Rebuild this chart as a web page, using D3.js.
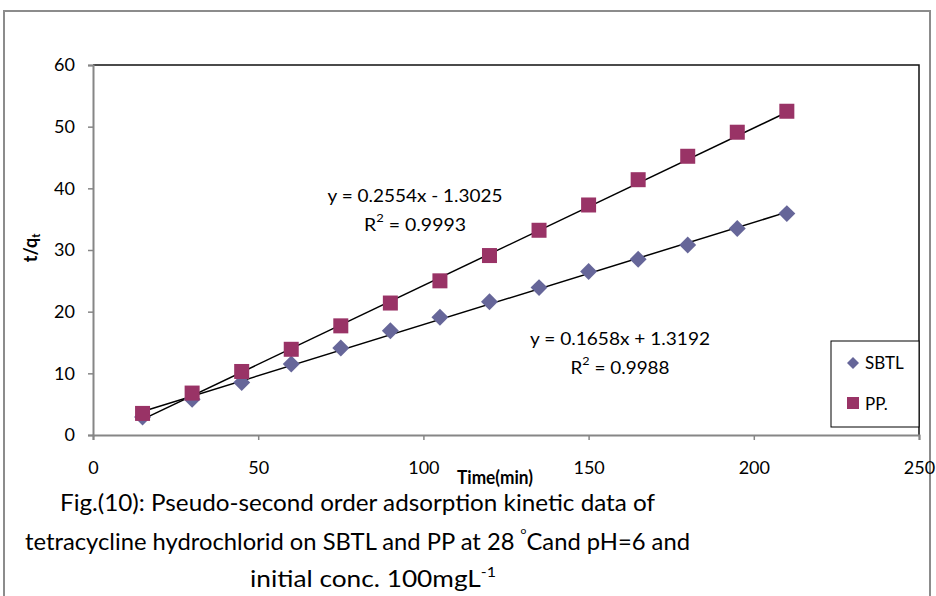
<!DOCTYPE html>
<html><head><meta charset="utf-8">
<script src="https://cdn.jsdelivr.net/npm/d3@7"></script>
<style>body{margin:0;background:#fff;} svg{display:block;}</style>
</head><body>
<svg id="c" width="936" height="596"></svg>
<script>
// ---- data ----
const times = [15,30,45,60,75,90,105,120,135,150,165,180,195,210];
const sbtl  = [2.9,5.8,8.5,11.5,14.1,16.9,19.1,21.6,23.9,26.5,28.5,30.8,33.5,35.9];
const pp    = [3.5,6.8,10.3,13.9,17.7,21.4,25.0,29.1,33.2,37.3,41.4,45.2,49.1,52.5];
const seriesNames = ["SBTL","PP."];
const fitSbtl = {slope:0.1658, intercept:1.3192, r2:"0.9988"};
const fitPp   = {slope:0.2554, intercept:-1.3025, r2:"0.9993"};
const xTicks = [0,50,100,150,200,250];
const yTicks = [0,10,20,30,40,50,60];

const svg = d3.select("#c");
const F = "Lato,'Open Sans',sans-serif";
const x = d3.scaleLinear().domain([0,250]).range([93,919]);
const y = d3.scaleLinear().domain([0,60]).range([435,65]);

// outer chart border
svg.append("path").attr("d","M4,596 V11 H930 V596").attr("fill","none").attr("stroke","#8c8c8c").attr("stroke-width",2);

// plot border top/right
svg.append("path").attr("d",`M${x(0)},${y(60)} H${x(250)} V${y(0)}`).attr("fill","none").attr("stroke","#111").attr("stroke-width",1.5);

// axes
const yAxis = d3.axisLeft(y).tickValues(yTicks).tickSize(5).tickPadding(13);
const gy = svg.append("g").attr("transform",`translate(${x(0)},0)`).call(yAxis);
const xAxis = d3.axisBottom(x).tickValues(xTicks).tickSize(5).tickPadding(21);
const gx = svg.append("g").attr("transform",`translate(0,${y(0)})`).call(xAxis);
[gx,gy].forEach(g=>{
  g.select(".domain").attr("stroke","#868686").attr("stroke-width",2);
  g.selectAll(".tick line").attr("stroke","#868686").attr("stroke-width",1.5);
  g.selectAll(".tick text").attr("font-family",F).attr("font-size",18).attr("fill","#000");
});
gx.selectAll(".tick text").attr("dy",0).attr("y",39);

// axis titles
svg.append("text").attr("x",495).attr("y",484).attr("text-anchor","middle")
  .attr("font-family",F).attr("font-size",18).attr("font-weight","bold")
  .attr("textLength",76).attr("lengthAdjust","spacingAndGlyphs").text("Time(min)");
const yt = svg.append("text").attr("transform","translate(37,248) rotate(-90)").attr("text-anchor","middle")
  .attr("font-family",F).attr("font-size",18).attr("font-weight","bold");
yt.append("tspan").text("t/q");
yt.append("tspan").attr("font-size",11).attr("dy",3).text("t");

// trend lines
[fitSbtl,fitPp].forEach(f=>{
  const x0 = d3.min(times), x1 = d3.max(times);
  svg.append("line").attr("x1",x(x0)).attr("y1",y(f.slope*x0+f.intercept))
    .attr("x2",x(x1)).attr("y2",y(f.slope*x1+f.intercept)).attr("stroke","#000").attr("stroke-width",1.5);
});

// markers
const colS = "#666699", colP = "#993366";
svg.append("g").selectAll("path").data(times.map((t,i)=>[t,sbtl[i]])).join("path")
  .attr("transform",d=>`translate(${x(d[0])},${y(d[1])}) rotate(45)`)
  .attr("d",d3.symbol().type(d3.symbolSquare).size(144)()).attr("fill",colS);
svg.append("g").selectAll("rect").data(times.map((t,i)=>[t,pp[i]])).join("rect")
  .attr("x",d=>x(d[0])-7.5).attr("y",d=>y(d[1])-7.5).attr("width",15).attr("height",15).attr("fill",colP);

// trend equations
function eq(cx, cy, txt, r2, w, w2){
  svg.append("text").attr("x",cx).attr("y",cy).attr("text-anchor","middle")
    .attr("font-family",F).attr("font-size",18)
    .attr("textLength",w).attr("lengthAdjust","spacingAndGlyphs").text(txt);
  const t = svg.append("text").attr("x",cx).attr("y",cy+29).attr("text-anchor","middle")
    .attr("font-family",F).attr("font-size",18)
    .attr("textLength",w2).attr("lengthAdjust","spacingAndGlyphs");
  t.append("tspan").text("R");
  t.append("tspan").attr("font-size",12).attr("dy",-9).text("2");
  t.append("tspan").attr("dy",9).text(" = "+r2);
}
eq(415, 202, `y = ${fitPp.slope}x - ${Math.abs(fitPp.intercept).toFixed(4)}`, fitPp.r2, 175, 102);
eq(620, 345, `y = ${fitSbtl.slope}x + ${fitSbtl.intercept.toFixed(4)}`, fitSbtl.r2, 180, 99);

// legend
svg.append("rect").attr("x",831).attr("y",341).attr("width",88).attr("height",86)
  .attr("fill","#fff").attr("stroke","#000").attr("stroke-width",1);
svg.append("path").attr("transform","translate(853,363) rotate(45)")
  .attr("d",d3.symbol().type(d3.symbolSquare).size(72)()).attr("fill",colS);
svg.append("rect").attr("x",847).attr("y",397).attr("width",12).attr("height",12).attr("fill",colP);
svg.append("text").attr("x",865).attr("y",369).attr("font-family",F).attr("font-size",17).text(seriesNames[0]);
svg.append("text").attr("x",865).attr("y",410).attr("font-family",F).attr("font-size",17).text(seriesNames[1]);

// caption
const CF = 23;
svg.append("text").attr("x",60).attr("y",511).attr("font-family",F).attr("font-size",CF)
  .attr("textLength",595).attr("lengthAdjust","spacingAndGlyphs")
  .text("Fig.(10): Pseudo-second order adsorption kinetic data of");
const c2 = svg.append("text").attr("x",25).attr("y",550).attr("font-family",F).attr("font-size",CF)
  .attr("textLength",665).attr("lengthAdjust","spacingAndGlyphs");
c2.append("tspan").text("tetracycline hydrochlorid on SBTL and  PP at 28 ");
c2.append("tspan").attr("font-size",10).attr("dy",-16).text("o");
c2.append("tspan").attr("dy",16).text("Cand pH=6 and");
const c3 = svg.append("text").attr("x",250).attr("y",587).attr("font-family",F).attr("font-size",CF)
  .attr("textLength",246).attr("lengthAdjust","spacingAndGlyphs");
c3.append("tspan").text("initial conc. 100mgL");
c3.append("tspan").attr("font-size",14).attr("dy",-10).text("-1");
</script>
</body></html>
